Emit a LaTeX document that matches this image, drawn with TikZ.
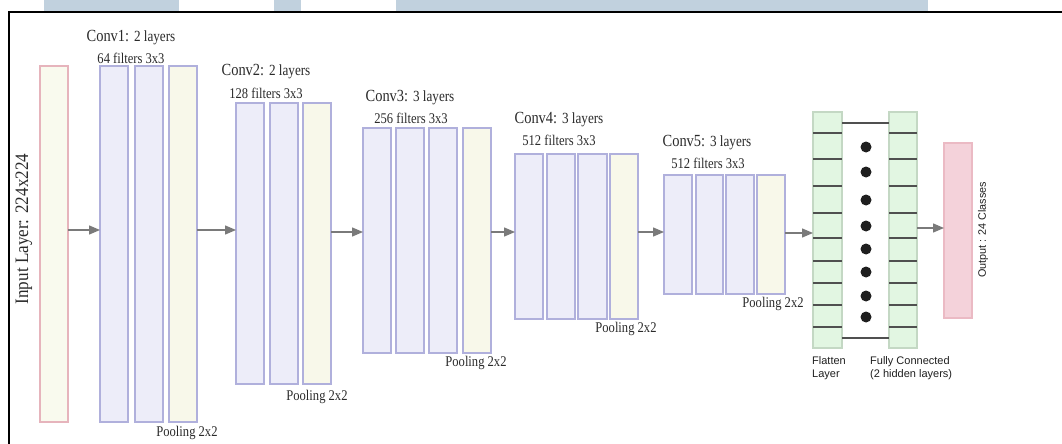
\documentclass[tikz,border=0pt]{standalone}
\usepackage{fontspec}
\setmainfont{Liberation Serif}
\newfontfamily\condf[FakeStretch=0.85]{Liberation Serif}
\newfontfamily\condg[FakeStretch=0.9]{Liberation Serif}
\newfontfamily\sansf{Liberation Sans}
\usetikzlibrary{fit,arrows.meta}
\definecolor{convfill}{HTML}{EDEDF9}
\definecolor{convline}{HTML}{B0B0DC}
\definecolor{poolfill}{HTML}{F8F8EA}
\definecolor{infill}{HTML}{F9FAEE}
\definecolor{inline}{HTML}{E6B4BC}
\definecolor{grfill}{HTML}{E2F6E2}
\definecolor{grline}{HTML}{C4D8C4}
\definecolor{outfill}{HTML}{F4D2DA}
\definecolor{outline}{HTML}{EBBAC4}
\definecolor{wmcol}{HTML}{C1D1DE}
\definecolor{arrcol}{HTML}{7A7A7A}
\definecolor{txtcol}{HTML}{2A2A2A}
\definecolor{cellcol}{HTML}{505050}
\tikzset{
  boxbase/.style={inner sep=0pt, outer sep=0pt, line width=1.1pt},
  convbox/.style={boxbase, draw=convline, fill=convfill},
  poolbox/.style={boxbase, draw=convline, fill=poolfill},
  inbox/.style={boxbase, draw=inline, fill=infill},
  grbox/.style={boxbase, draw=grline, fill=grfill},
  outbox/.style={boxbase, draw=outline, fill=outfill},
  arr/.style={draw=arrcol, line width=1.4pt, -{Triangle[length=11pt,width=9pt]}},
  cellline/.style={draw=cellcol, line width=1.3pt},
  lbl/.style={inner sep=0pt, text=txtcol, font=\condf\fontsize{17}{19}\selectfont},
  sub/.style={inner sep=0pt, text=txtcol, font=\condf\fontsize{14.8}{16}\selectfont},
  sans/.style={inner sep=0pt, text=black!88, font=\sansf\fontsize{11}{13.5}\selectfont, align=left},
  dotnode/.style={circle, fill=black!88, minimum size=11pt, inner sep=0pt}
}
\newcommand\laybox[6]{\node[#6, fit={(#2,#3) (#4,#5)}] (#1) {};}
\newcommand\smallpart[1]{{\fontsize{15.5}{17}\selectfont #1}}
\begin{document}
\begin{tikzpicture}[x=1pt,y=-1pt]
\useasboundingbox (0,0) rectangle (1062,444);
% top strip
\fill[wmcol] (44,0) rectangle (179,12);
\fill[wmcol] (274,0) rectangle (301,12);
\fill[wmcol] (396,0) rectangle (928,12);
\draw[line width=2.4pt] (9,444) -- (9,12) -- (1062,12);

% input
\laybox{in}{40}{66}{68}{422}{inbox}
\node[rotate=90, inner sep=0pt, text=txtcol, font=\condg\fontsize{19}{21}\selectfont] (inlbl) at (24,229) {Input Layer: 224x224};

% conv1
\laybox{c1a}{100}{66}{128}{422}{convbox}
\laybox{c1b}{135}{66}{163}{422}{convbox}
\laybox{c1p}{169}{66}{197}{422}{poolbox}
\node[lbl] (t1) at (131,38) {Conv1: \smallpart{2 layers}};
\node[sub] (f1) at (131,58) {64 filters 3x3};
\node[sub] (p1) at (187,433) {Pooling 2x2};

% conv2
\laybox{c2a}{236}{103}{264}{384}{convbox}
\laybox{c2b}{270}{103}{298}{384}{convbox}
\laybox{c2p}{303}{103}{331}{384}{poolbox}
\node[lbl] (t2) at (266,72) {Conv2: \smallpart{2 layers}};
\node[sub] (f2) at (266,93) {128 filters 3x3};
\node[sub] (p2) at (317,397) {Pooling 2x2};

% conv3
\laybox{c3a}{363}{128}{391}{353}{convbox}
\laybox{c3b}{396}{128}{424}{353}{convbox}
\laybox{c3c}{429}{128}{457}{353}{convbox}
\laybox{c3p}{463}{128}{491}{353}{poolbox}
\node[lbl] (t3) at (410,98) {Conv3: \smallpart{3 layers}};
\node[sub] (f3) at (411,118) {256 filters 3x3};
\node[sub] (p3) at (476,363) {Pooling 2x2};

% conv4
\laybox{c4a}{515}{154}{543}{319}{convbox}
\laybox{c4b}{547}{154}{575}{319}{convbox}
\laybox{c4c}{578}{154}{607}{319}{convbox}
\laybox{c4p}{610}{154}{638}{319}{poolbox}
\node[lbl] (t4) at (559,120) {Conv4: \smallpart{3 layers}};
\node[sub] (f4) at (559,140) {512 filters 3x3};
\node[sub] (p4) at (626,329) {Pooling 2x2};

% conv5
\laybox{c5a}{664}{175}{692}{294}{convbox}
\laybox{c5b}{696}{175}{723}{294}{convbox}
\laybox{c5c}{726}{175}{754}{294}{convbox}
\laybox{c5p}{757}{175}{785}{294}{poolbox}
\node[lbl] (t5) at (707,143) {Conv5: \smallpart{3 layers}};
\node[sub] (f5) at (708,163) {512 filters 3x3};
\node[sub] (p5) at (773,304) {Pooling 2x2};

% flatten & fully connected
\laybox{fl}{813}{112}{842}{348}{grbox}
\laybox{fc}{889}{112}{917}{348}{grbox}
\foreach \yy in {133,159,186,213,238,261,283,305,327}{
  \coordinate (cy) at (0,\yy);
  \draw[cellline] (fl.west |- cy) -- (fl.east |- cy);
  \draw[cellline] (fc.west |- cy) -- (fc.east |- cy);
}
\coordinate (ytop) at (0,123);
\coordinate (ybot) at (0,338);
\draw[cellline] (fl.east |- ytop) -- (fc.west |- ytop);
\draw[cellline] (fl.east |- ybot) -- (fc.west |- ybot);
\foreach \yy [count=\i] in {147,172,200,226,249,272,296,317}{
  \node[dotnode] (d\i) at (866,\yy) {};
}
\node[sans, anchor=north west] (fllbl) at (812,356) {Flatten\\Layer};
\node[sans, anchor=north west] (fclbl) at (870,356) {Fully Connected\\(2 hidden layers)};

% output
\laybox{out}{944}{143}{972}{318}{outbox}
\node[rotate=90, inner sep=0pt, text=black!88, font=\sansf\fontsize{10.8}{12}\selectfont] (outlbl) at (983,230) {Output : 24 Classes};

% arrows
\coordinate (a1) at (0,230);
\coordinate (a2) at (0,232);
\coordinate (a3) at (0,233);
\coordinate (a4) at (0,228);
\draw[arr] (in.east |- a1) -- (c1a.west |- a1);
\draw[arr] (c1p.east |- a1) -- (c2a.west |- a1);
\draw[arr] (c2p.east |- a2) -- (c3a.west |- a2);
\draw[arr] (c3p.east |- a2) -- (c4a.west |- a2);
\draw[arr] (c4p.east |- a2) -- (c5a.west |- a2);
\draw[arr] (c5p.east |- a3) -- (fl.west |- a3);
\draw[arr] (fc.east |- a4) -- (out.west |- a4);
\end{tikzpicture}
\end{document}
